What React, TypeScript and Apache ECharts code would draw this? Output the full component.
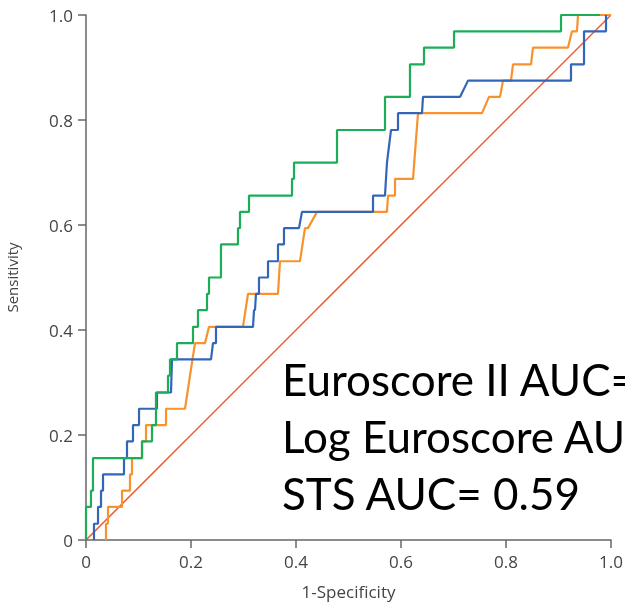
import React, { useEffect, useRef } from "react";
import * as echarts from "echarts";

// 1-Specificity (FPR) and Sensitivity (TPR) pairs
const greenFpr = [0, 0, 0.0095, 0.0095, 0.0133, 0.0133, 0.1067, 0.1067, 0.1257, 0.1257, 0.1333, 0.1333, 0.1562, 0.1562, 0.16, 0.16, 0.1733, 0.1733, 0.2038, 0.2038, 0.2133, 0.2133, 0.2305, 0.2305, 0.2343, 0.2343, 0.2571, 0.2571, 0.2895, 0.2895, 0.2933, 0.2933, 0.3105, 0.3105, 0.3924, 0.3924, 0.3962, 0.3962, 0.4781, 0.4781, 0.5695, 0.5695, 0.6171, 0.6171, 0.6438, 0.6438, 0.701, 0.701, 0.9048, 0.9048, 0.979];
const greenTpr = [0, 0.063, 0.063, 0.094, 0.094, 0.156, 0.156, 0.188, 0.188, 0.219, 0.219, 0.281, 0.281, 0.313, 0.313, 0.344, 0.344, 0.375, 0.375, 0.406, 0.406, 0.438, 0.438, 0.469, 0.469, 0.5, 0.5, 0.563, 0.563, 0.594, 0.594, 0.625, 0.625, 0.656, 0.656, 0.688, 0.688, 0.719, 0.719, 0.781, 0.781, 0.844, 0.844, 0.906, 0.906, 0.938, 0.938, 0.969, 0.969, 1, 1];

const blueFpr = [0.0152, 0.0152, 0.0229, 0.0229, 0.0286, 0.0286, 0.0324, 0.0324, 0.0724, 0.0724, 0.0781, 0.0781, 0.0895, 0.0895, 0.101, 0.101, 0.1352, 0.1352, 0.1619, 0.1638, 0.2381, 0.2419, 0.2476, 0.2476, 0.3181, 0.32, 0.3219, 0.3238, 0.3295, 0.3295, 0.3467, 0.3467, 0.3657, 0.3657, 0.3771, 0.3771, 0.4057, 0.4114, 0.5467, 0.5467, 0.5695, 0.5714, 0.5733, 0.5771, 0.581, 0.5943, 0.5943, 0.64, 0.6419, 0.7124, 0.7276, 0.9238, 0.9238, 0.9486, 0.9486, 0.9905, 0.9905];
const blueTpr = [0, 0.031, 0.031, 0.063, 0.063, 0.094, 0.094, 0.125, 0.125, 0.156, 0.156, 0.188, 0.188, 0.219, 0.219, 0.25, 0.25, 0.281, 0.281, 0.344, 0.344, 0.375, 0.375, 0.406, 0.406, 0.438, 0.438, 0.469, 0.469, 0.5, 0.5, 0.531, 0.531, 0.563, 0.563, 0.594, 0.594, 0.625, 0.625, 0.656, 0.656, 0.688, 0.719, 0.75, 0.781, 0.781, 0.813, 0.813, 0.844, 0.844, 0.875, 0.875, 0.906, 0.906, 0.969, 0.969, 1];

const orangeFpr = [0.0381, 0.0381, 0.0419, 0.0419, 0.0686, 0.0686, 0.0838, 0.0838, 0.0876, 0.0876, 0.1067, 0.1067, 0.1143, 0.1143, 0.1524, 0.1524, 0.1886, 0.1981, 0.2076, 0.2267, 0.2343, 0.299, 0.3086, 0.3657, 0.3695, 0.4076, 0.4171, 0.4229, 0.44, 0.5733, 0.5752, 0.5886, 0.5886, 0.6229, 0.6324, 0.7543, 0.7676, 0.7886, 0.7943, 0.8095, 0.8133, 0.8476, 0.8514, 0.9181, 0.9257, 0.9352, 0.9371, 1];
const orangeTpr = [0, 0.031, 0.031, 0.063, 0.063, 0.094, 0.094, 0.125, 0.125, 0.156, 0.156, 0.188, 0.188, 0.219, 0.219, 0.25, 0.25, 0.313, 0.375, 0.375, 0.406, 0.406, 0.469, 0.469, 0.531, 0.531, 0.594, 0.594, 0.625, 0.625, 0.656, 0.656, 0.688, 0.688, 0.813, 0.813, 0.844, 0.844, 0.875, 0.875, 0.906, 0.906, 0.938, 0.938, 0.969, 0.969, 1, 1];

const refFpr = [0, 1];
const refTpr = [0, 1];

// Annotation as visible in the reference (the first two lines run past the right edge there)
const annotationLines = ["Euroscore II AUC=", "Log Euroscore AUC=", "STS AUC= 0.59"];

const pairs = (xs: number[], ys: number[]) => xs.map((x, i) => [x, ys[i]]);

export default function App() {
  const ref = useRef<HTMLDivElement>(null);
  useEffect(() => {
    if (!ref.current) return;
    const chart = echarts.init(ref.current, null, { renderer: "svg" });
    const axisCommon = {
      type: "value" as const,
      min: 0,
      max: 1,
      interval: 0.2,
      nameLocation: "middle" as const,
      nameTextStyle: { fontFamily: "Open Sans", fontSize: 16, color: "#444" },
      axisLine: { show: true, lineStyle: { color: "#666", width: 1.5 } },
      axisTick: { show: true, length: 8, lineStyle: { color: "#666", width: 1.5 } },
      axisLabel: {
        fontFamily: "Open Sans",
        fontSize: 17,
        color: "#444",
        margin: 13,
        formatter: (v: number) => (v === 0 ? "0" : v.toFixed(1)),
      },
      splitLine: { show: false },
    };
    const lineSeries = (name: string, data: number[][], color: string, width: number) => ({
      name,
      type: "line" as const,
      data,
      showSymbol: false,
      symbol: "none",
      lineStyle: { color, width },
      itemStyle: { color },
    });
    chart.setOption({
      animation: false,
      grid: { left: 86, right: 14, top: 15, bottom: 63, containLabel: false, outerBoundsMode: "none" },
      xAxis: { ...axisCommon, name: "1-Specificity", nameGap: 43, nameTextStyle: { ...axisCommon.nameTextStyle, fontSize: 17 } },
      yAxis: { ...axisCommon, name: "Sensitivity", nameGap: 67, nameTextStyle: { ...axisCommon.nameTextStyle, fontSize: 15 } },
      series: [
        lineSeries("Reference", pairs(refFpr, refTpr), "#ee5a2e", 1.5),
        lineSeries("Log Euroscore", pairs(orangeFpr, orangeTpr), "#f7922f", 2.2),
        lineSeries("STS", pairs(blueFpr, blueTpr), "#3366b8", 2.2),
        lineSeries("Euroscore II", pairs(greenFpr, greenTpr), "#1bad58", 2.2),
      ],
      graphic: annotationLines.map((t, i) => ({
        type: "text",
        left: 282,
        top: 357 + i * 57,
        style: { text: t, fontFamily: "Lato", fontSize: 44, fill: "#000" },
        z: 100,
      })),
    });
    return () => chart.dispose();
  }, []);
  return <div ref={ref} style={{ position: "fixed", left: 0, top: 0, width: 625, height: 603 }} />;
}
